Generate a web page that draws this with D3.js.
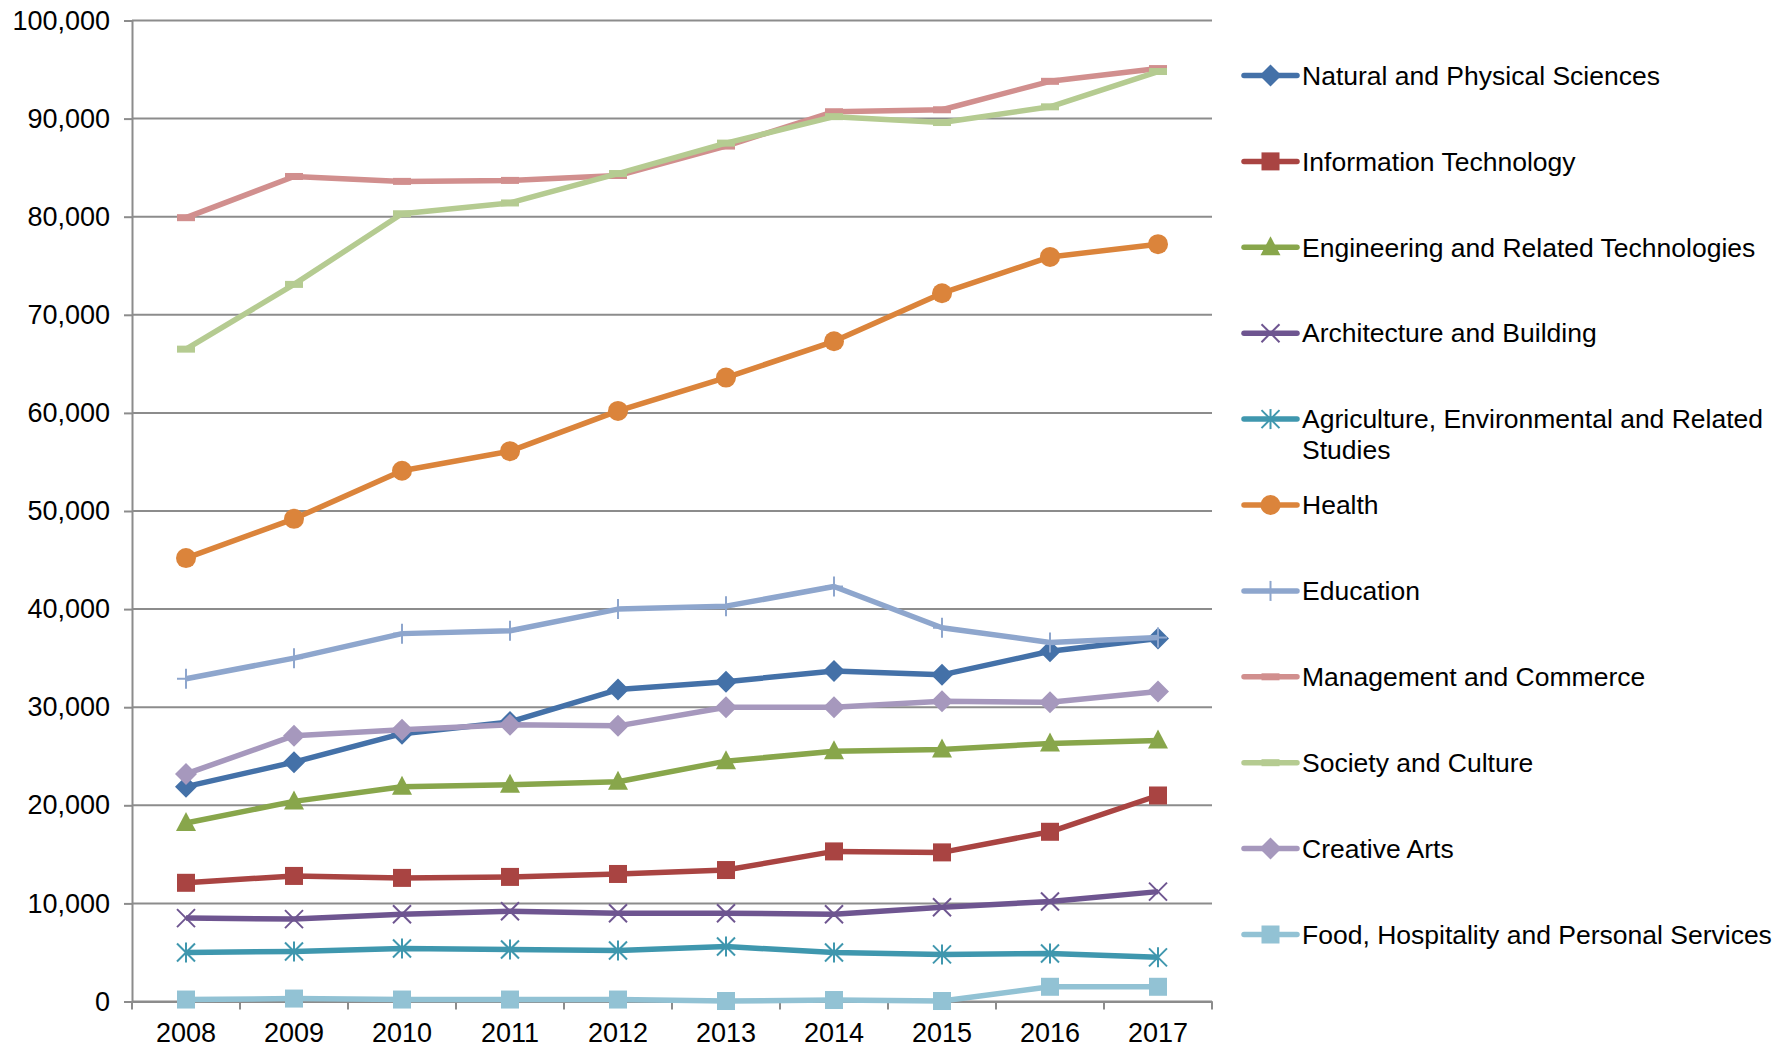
<!DOCTYPE html>
<html>
<head>
<meta charset="utf-8">
<script src="https://cdnjs.cloudflare.com/ajax/libs/d3/7.8.5/d3.min.js"></script>
<style>
  body { margin: 0; background: #fff; }
  text { font-family: "Liberation Sans", Arial, sans-serif; fill: #000; }
</style>
</head>
<body>
<div id="chart"></div>
<script>
// data
var years = ["2008", "2009", "2010", "2011", "2012", "2013", "2014", "2015", "2016", "2017"];
var yTicks = [0, 10000, 20000, 30000, 40000, 50000, 60000, 70000, 80000, 90000, 100000];

var natural     = [21900, 24400, 27300, 28500, 31800, 32600, 33700, 33300, 35700, 37000];
var infoTech    = [12100, 12800, 12600, 12700, 13000, 13400, 15300, 15200, 17300, 21000];
var engineering = [18200, 20400, 21900, 22100, 22400, 24500, 25500, 25700, 26300, 26600];
var architecture= [8500, 8400, 8900, 9200, 9000, 9000, 8900, 9600, 10200, 11200];
var agriculture = [5000, 5100, 5400, 5300, 5200, 5600, 5000, 4800, 4900, 4500];
var health      = [45200, 49200, 54100, 56100, 60200, 63600, 67300, 72200, 75900, 77200];
var education   = [32900, 35000, 37500, 37800, 40000, 40300, 42300, 38100, 36600, 37100];
var management  = [79900, 84100, 83600, 83700, 84200, 87200, 90700, 90900, 93800, 95100];
var society     = [66500, 73100, 80300, 81400, 84400, 87500, 90200, 89600, 91200, 94800];
var creative    = [23200, 27100, 27700, 28200, 28100, 30000, 30000, 30600, 30500, 31600];
var food        = [200, 300, 200, 200, 200, 50, 150, 50, 1500, 1500];

var seriesNames = ["Natural and Physical Sciences", "Information Technology",
  "Engineering and Related Technologies", "Architecture and Building",
  "Agriculture, Environmental and Related Studies", "Health", "Education",
  "Management and Commerce", "Society and Culture", "Creative Arts",
  "Food, Hospitality and Personal Services"];
var seriesValues = [natural, infoTech, engineering, architecture, agriculture, health,
  education, management, society, creative, food];
var seriesColors = ["#4471a8", "#a94442", "#88a64b", "#6e5590", "#3f97ae", "#db843b",
  "#8ea6cd", "#d18f8e", "#b5cb91", "#a698bd", "#92c2d4"];
var seriesMarkers = ["diamond", "square", "triangle", "x", "star", "circle", "plus",
  "dash", "dash", "diamond", "square"];

var W = 1789, H = 1048;
var plotL = 132, plotR = 1212, plotT = 20.5, plotB = 1001.5;

var svg = d3.select("#chart").append("svg")
  .attr("width", W)
  .attr("height", H);

var x = d3.scaleBand().domain(years).range([plotL, plotR]).padding(0);
var y = d3.scaleLinear().domain([0, 100000]).range([plotB, plotT]);
var cx = function(i) { return x(years[i]) + x.bandwidth() / 2; };

// gridlines
svg.append("g")
  .selectAll("line")
  .data(yTicks)
  .enter()
  .append("line")
  .attr("x1", plotL).attr("x2", plotR)
  .attr("y1", function(d) { return y(d); })
  .attr("y2", function(d) { return y(d); })
  .attr("stroke", "#8c8c8c")
  .attr("stroke-width", 2);

// y axis
var yAxis = svg.append("g")
  .attr("transform", "translate(" + plotL + ",0)")
  .call(d3.axisLeft(y).tickValues(yTicks).tickSize(8).tickPadding(14)
    .tickFormat(d3.format(",")));
yAxis.select(".domain").attr("stroke", "#8c8c8c").attr("stroke-width", 2);
yAxis.selectAll(".tick line").attr("stroke", "#8c8c8c").attr("stroke-width", 2);
yAxis.selectAll("text").style("font-size", "27px").attr("fill", "#000");

// x axis: labels centred in bands, ticks on band edges
var xAxis = svg.append("g")
  .attr("transform", "translate(0," + plotB + ")")
  .call(d3.axisBottom(x).tickSize(0).tickPadding(21));
xAxis.select(".domain").attr("stroke", "#8c8c8c").attr("stroke-width", 2);
xAxis.selectAll("text").style("font-size", "27px").attr("fill", "#000");

var edges = years.map(function(d) { return x(d); }).concat([plotR]);
svg.append("g")
  .selectAll("line")
  .data(edges)
  .enter()
  .append("line")
  .attr("x1", function(d) { return d; })
  .attr("x2", function(d) { return d; })
  .attr("y1", plotB)
  .attr("y2", plotB + 8)
  .attr("stroke", "#8c8c8c")
  .attr("stroke-width", 2);

// marker drawing
function drawMarker(g, type, color, px, py) {
  if (type == "diamond") {
    g.append("path")
      .attr("d", "M" + px + "," + (py - 11) + "L" + (px + 11) + "," + py +
        "L" + px + "," + (py + 11) + "L" + (px - 11) + "," + py + "Z")
      .attr("fill", color);
  } else if (type == "square") {
    g.append("rect")
      .attr("x", px - 9).attr("y", py - 9)
      .attr("width", 18).attr("height", 18)
      .attr("fill", color);
  } else if (type == "triangle") {
    g.append("path")
      .attr("d", "M" + px + "," + (py - 11) + "L" + (px + 10) + "," + (py + 8) +
        "L" + (px - 10) + "," + (py + 8) + "Z")
      .attr("fill", color);
  } else if (type == "circle") {
    g.append("circle")
      .attr("cx", px).attr("cy", py).attr("r", 10)
      .attr("fill", color);
  } else if (type == "x" || type == "star" || type == "plus") {
    var s = 9;
    var segs = [];
    if (type != "plus") {
      segs.push([-s, -s, s, s]);
      segs.push([-s, s, s, -s]);
    }
    if (type != "x") {
      segs.push([0, -s - 1, 0, s + 1]);
    }
    if (type == "plus") {
      segs.push([-s, 0, s, 0]);
    }
    segs.forEach(function(sg) {
      g.append("line")
        .attr("x1", px + sg[0]).attr("y1", py + sg[1])
        .attr("x2", px + sg[2]).attr("y2", py + sg[3])
        .attr("stroke", color)
        .attr("stroke-width", 2);
    });
  } else if (type == "dash") {
    g.append("rect")
      .attr("x", px - 9).attr("y", py - 3.5)
      .attr("width", 18).attr("height", 7)
      .attr("fill", color);
  }
}

var line = d3.line()
  .x(function(d, i) { return cx(i); })
  .y(function(d) { return y(d); });

seriesValues.forEach(function(vals, k) {
  var g = svg.append("g");
  g.append("path")
    .datum(vals)
    .attr("d", line)
    .attr("fill", "none")
    .attr("stroke", seriesColors[k])
    .attr("stroke-width", 5.5)
    .attr("stroke-linejoin", "round");
  vals.forEach(function(v, i) {
    drawMarker(g, seriesMarkers[k], seriesColors[k], cx(i), y(v));
  });
});

// legend
var legX = 1244, legY = 75.5, legStep = 85.9;
seriesNames.forEach(function(name, k) {
  var g = svg.append("g")
    .attr("transform", "translate(0," + (legY + k * legStep) + ")");
  g.append("line")
    .attr("x1", legX).attr("x2", legX + 53)
    .attr("y1", 0).attr("y2", 0)
    .attr("stroke", seriesColors[k])
    .attr("stroke-width", 5.5)
    .attr("stroke-linecap", "round");
  drawMarker(g, seriesMarkers[k], seriesColors[k], legX + 26.5, 0);
  var t = g.append("text")
    .attr("x", legX + 58)
    .attr("y", 0)
    .attr("dy", "0.35em")
    .style("font-size", "26.5px");
  if (name.indexOf("Agriculture") == 0) {
    t.text("Agriculture, Environmental and Related");
    g.append("text")
      .attr("x", legX + 58)
      .attr("y", 31)
      .attr("dy", "0.35em")
      .style("font-size", "26.5px")
      .text("Studies");
  } else {
    t.text(name);
  }
});
</script>
</body>
</html>
